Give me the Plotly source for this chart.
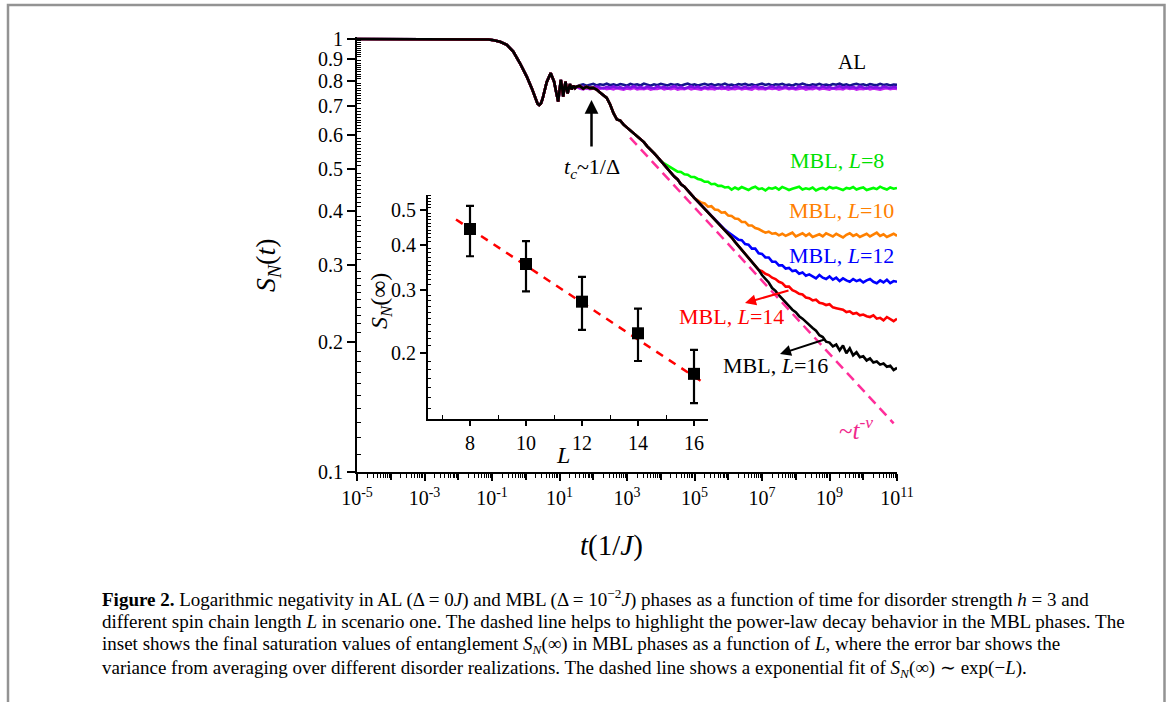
import numpy as np
import plotly.graph_objects as go

W, H = 1171, 702
SERIF = "Liberation Serif"

# ---------------- data ----------------
# common short-time part, log10(t) and S_N(t)
early_logt = [-5.0, -3.0, -1.6, -1.3, -1.1, -0.95, -0.76, -0.56, -0.37, -0.17, 0.03, 0.18, 0.30, 0.35,
              0.40, 0.45, 0.50, 0.62, 0.74, 0.84, 0.92, 0.96, 1.00, 1.04, 1.08, 1.11, 1.15, 1.18,
              1.21, 1.24, 1.28, 1.31, 1.36, 1.41, 1.46, 1.50]
early_S = [1.0, 1.0, 1.0, 0.999, 0.997, 0.993, 0.985, 0.969, 0.935, 0.879, 0.819, 0.769, 0.725, 0.709,
           0.704, 0.710, 0.728, 0.795, 0.834, 0.797, 0.742, 0.717, 0.760, 0.804, 0.770, 0.736, 0.775, 0.797,
           0.768, 0.749, 0.772, 0.787, 0.765, 0.780, 0.770, 0.776]

# MBL common decline, log10 t = 1.6 ... 4.0 (step 0.1)
decline_start = 1.6
decline_S = [0.779, 0.768, 0.776, 0.770, 0.771, 0.764, 0.752, 0.742, 0.731, 0.706, 0.674, 0.652, 0.648,
             0.634, 0.624, 0.616, 0.604, 0.597, 0.585, 0.578, 0.565, 0.556, 0.545, 0.534, 0.523]

# MBL shared branch (L=10..16), log10 t = 4.1 ... 6.9
main_start = 4.1
main_S = [0.511, 0.500, 0.491, 0.481, 0.474, 0.462, 0.456, 0.446, 0.438, 0.429, 0.421, 0.413, 0.406,
          0.398, 0.391, 0.384, 0.377, 0.369, 0.363, 0.355, 0.348, 0.340, 0.333, 0.326, 0.319, 0.312,
          0.306, 0.299, 0.293]

# individual tails (step 0.1 in log10 t)
green_start = 4.1   # L=8
green_S = [0.516, 0.511, 0.504, 0.500, 0.494, 0.493, 0.487, 0.486, 0.480, 0.480,
           0.475, 0.473, 0.468, 0.468, 0.462, 0.463, 0.458, 0.458, 0.454, 0.455,
           0.449, 0.454, 0.450, 0.455, 0.451, 0.448, 0.453, 0.456, 0.450, 0.452,
           0.447, 0.453, 0.451, 0.454, 0.449, 0.455, 0.452, 0.448, 0.451, 0.453,
           0.456, 0.449, 0.452, 0.450, 0.454, 0.447, 0.451, 0.453, 0.449, 0.455,
           0.452, 0.454, 0.450, 0.448, 0.453, 0.451, 0.455, 0.449, 0.452, 0.454,
           0.448, 0.451, 0.453, 0.450, 0.456, 0.452, 0.449, 0.454, 0.451, 0.453]
orange_start = 5.1  # L=10
orange_S = [0.424, 0.419, 0.417, 0.410, 0.411, 0.404, 0.403, 0.397, 0.398, 0.391,
            0.390, 0.385, 0.384, 0.378, 0.378, 0.371, 0.371, 0.366, 0.364,
            0.361, 0.357, 0.359, 0.355, 0.356, 0.352, 0.355, 0.351, 0.354, 0.357,
            0.350, 0.353, 0.356, 0.351, 0.355, 0.349, 0.352, 0.354, 0.350, 0.356,
            0.353, 0.350, 0.355, 0.352, 0.348, 0.353, 0.356, 0.351, 0.354, 0.349,
            0.352, 0.355, 0.350, 0.353, 0.357, 0.351, 0.354, 0.349, 0.352, 0.355, 0.351]
blue_start = 6.0    # L=12
blue_S = [0.358, 0.353, 0.349, 0.344, 0.343, 0.336, 0.335, 0.328, 0.328, 0.320,
          0.319, 0.313, 0.313, 0.306, 0.306, 0.300, 0.300, 0.295, 0.296, 0.291,
          0.292, 0.287, 0.289, 0.284, 0.286, 0.283, 0.280, 0.285, 0.281, 0.279,
          0.283, 0.278, 0.281, 0.276, 0.280, 0.277, 0.275, 0.279, 0.276, 0.278,
          0.274, 0.277, 0.279, 0.275, 0.273, 0.277, 0.274, 0.278, 0.273, 0.276, 0.275]
red_start = 7.0     # L=14
red_S = [0.291, 0.287, 0.285, 0.281, 0.279, 0.275, 0.273, 0.268, 0.268, 0.263,
         0.261, 0.258, 0.257, 0.253, 0.252, 0.249, 0.250, 0.246, 0.245, 0.243,
         0.244, 0.240, 0.239, 0.238, 0.237, 0.234, 0.235, 0.232, 0.233, 0.230,
         0.231, 0.229, 0.228, 0.230, 0.226, 0.227, 0.224, 0.228, 0.225, 0.223, 0.226]
black_start = 7.0   # L=16
black_S = [0.285, 0.279, 0.274, 0.266, 0.262, 0.256, 0.251, 0.247, 0.242, 0.237,
           0.234, 0.229, 0.226, 0.222, 0.219, 0.215, 0.212, 0.207, 0.205, 0.200,
           0.199, 0.195, 0.197, 0.191, 0.196, 0.188, 0.193, 0.186, 0.189, 0.184,
           0.185, 0.181, 0.183, 0.179, 0.180, 0.177, 0.178, 0.175, 0.176, 0.172, 0.174]

# AL curves, log10 t = 1.6 ... 11.0
al_start = 1.6
al_upper_S = [0.782, 0.786, 0.780, 0.785, 0.788, 0.781, 0.786, 0.783, 0.789, 0.782,
              0.786, 0.781, 0.787, 0.784, 0.780, 0.788, 0.783, 0.786, 0.781, 0.789,
              0.784, 0.780, 0.786, 0.782, 0.788, 0.785, 0.781, 0.787, 0.783, 0.786,
              0.780, 0.785, 0.789, 0.782, 0.786, 0.781, 0.784, 0.788, 0.783, 0.787,
              0.781, 0.786, 0.783, 0.789, 0.782, 0.785, 0.780, 0.787, 0.784, 0.788,
              0.782, 0.786, 0.781, 0.785, 0.789, 0.783, 0.787, 0.781, 0.786, 0.784,
              0.788, 0.782, 0.785, 0.780, 0.787, 0.783, 0.789, 0.784, 0.781, 0.786,
              0.783, 0.788, 0.782, 0.785, 0.781, 0.787, 0.784, 0.789, 0.782, 0.786,
              0.780, 0.785, 0.788, 0.783, 0.786, 0.781, 0.787, 0.784, 0.782, 0.788,
              0.783, 0.786, 0.781, 0.785, 0.784]
al_mid_S = [0.772, 0.776, 0.770, 0.775, 0.771, 0.777, 0.773, 0.769, 0.775, 0.772,
            0.777, 0.771, 0.774, 0.769, 0.776, 0.772, 0.778, 0.771, 0.775, 0.770,
            0.776, 0.773, 0.769, 0.777, 0.772, 0.775, 0.770, 0.774, 0.778, 0.771,
            0.775, 0.769, 0.773, 0.777, 0.772, 0.776, 0.770, 0.774, 0.771, 0.777,
            0.773, 0.769, 0.776, 0.772, 0.775, 0.770, 0.777, 0.773, 0.771, 0.776,
            0.770, 0.774, 0.778, 0.772, 0.775, 0.769, 0.773, 0.777, 0.771, 0.775,
            0.772, 0.776, 0.770, 0.774, 0.769, 0.777, 0.773, 0.775, 0.771, 0.776,
            0.774, 0.770, 0.777, 0.772, 0.775, 0.769, 0.774, 0.778, 0.771, 0.776,
            0.772, 0.775, 0.770, 0.777, 0.773, 0.769, 0.776, 0.772, 0.774, 0.770,
            0.776, 0.773, 0.771, 0.775, 0.772]
al_lower_S = [0.768, 0.765, 0.770, 0.766, 0.769, 0.764, 0.768, 0.771, 0.766, 0.769,
              0.765, 0.770, 0.767, 0.764, 0.769, 0.766, 0.771, 0.765, 0.768, 0.766,
              0.770, 0.764, 0.768, 0.767, 0.771, 0.765, 0.769, 0.766, 0.770, 0.764,
              0.768, 0.766, 0.771, 0.765, 0.769, 0.767, 0.764, 0.770, 0.766, 0.768,
              0.765, 0.771, 0.767, 0.769, 0.764, 0.768, 0.766, 0.770, 0.765, 0.769,
              0.767, 0.764, 0.771, 0.766, 0.768, 0.765, 0.770, 0.767, 0.769, 0.764,
              0.768, 0.771, 0.766, 0.769, 0.765, 0.767, 0.770, 0.764, 0.768, 0.766,
              0.771, 0.765, 0.769, 0.767, 0.764, 0.770, 0.766, 0.768, 0.765, 0.771,
              0.767, 0.769, 0.764, 0.768, 0.766, 0.770, 0.765, 0.769, 0.767, 0.764,
              0.768, 0.770, 0.766, 0.769, 0.767]

# power-law guide ~ t^-nu
pl_amp, pl_nu = 1.08, 0.0845
pl_logt_range = [3.09, 10.9]

# inset: saturation values vs L
inset_L = [8, 10, 12, 14, 16]
inset_S = [0.443, 0.354, 0.278, 0.227, 0.175]
inset_upper = [0.514, 0.410, 0.326, 0.266, 0.204]
inset_lower = [0.372, 0.297, 0.232, 0.190, 0.145]
fit_amp, fit_rate, fit_L0 = 0.444, 0.1185, 8
fit_L_range = [7.5, 16.25]

x_label_exps = [-5, -3, -1, 1, 3, 5, 7, 9, 11]
x_plain_exps = [-4, -2, 0, 2, 4, 6, 8, 10]
y_tick_vals = [0.1, 0.2, 0.3, 0.4, 0.5, 0.6, 0.7, 0.8, 0.9, 1.0]
y_tick_text = ["0.1", "0.2", "0.3", "0.4", "0.5", "0.6", "0.7", "0.8", "0.9", "1"]
inset_xticks = [8, 10, 12, 14, 16]
inset_yticks = [0.2, 0.3, 0.4, 0.5]


# ---------------- helpers ----------------
def grid(start, n):
    return [round(start + 0.1 * i, 2) for i in range(n)]


def build(*parts):
    lt, s = [], []
    for a, b in parts:
        lt += list(a)
        s += list(b)
    return [10 ** v for v in lt], s


def upto(start, vals, last):
    g = grid(start, len(vals))
    k = [i for i, v in enumerate(g) if v <= last + 1e-9]
    return [g[i] for i in k], [vals[i] for i in k]


def px(x):
    return x / W


def py(y):
    return 1 - y / H


early = (early_logt, early_S)
decl = (grid(decline_start, len(decline_S)), decline_S)

fig = go.Figure()

line_w = 2.6
al_traces = [("AL upper", al_upper_S, "#14148C"), ("AL lower", al_lower_S, "#C21EF0"),
             ("AL mid", al_mid_S, "#7F12E6")]
for name, vals, col in al_traces:
    x, y = build(early, (grid(al_start, len(vals)), vals))
    fig.add_trace(go.Scatter(x=x, y=y, mode="lines", name=name,
                             line=dict(color=col, width=line_w), xaxis="x", yaxis="y"))

mbl = [
    ("MBL L=8", [early, decl, (grid(green_start, len(green_S)), green_S)], "#00FF00"),
    ("MBL L=10", [early, decl, upto(main_start, main_S, orange_start - 0.1),
                  (grid(orange_start, len(orange_S)), orange_S)], "#FF8000"),
    ("MBL L=12", [early, decl, upto(main_start, main_S, blue_start - 0.1),
                  (grid(blue_start, len(blue_S)), blue_S)], "#0000FF"),
    ("MBL L=14", [early, decl, upto(main_start, main_S, red_start - 0.1),
                  (grid(red_start, len(red_S)), red_S)], "#FF0000"),
    ("MBL L=16", [early, decl, upto(main_start, main_S, black_start - 0.1),
                  (grid(black_start, len(black_S)), black_S)], "#000000"),
]
for name, parts, col in mbl:
    x, y = build(*parts)
    fig.add_trace(go.Scatter(x=x, y=y, mode="lines", name=name,
                             line=dict(color=col, width=line_w), xaxis="x", yaxis="y"))

# power-law guide
pl_t = [10 ** v for v in pl_logt_range]
pl_y = [pl_amp * t ** (-pl_nu) for t in pl_t]
fig.add_trace(go.Scatter(x=pl_t, y=pl_y, mode="lines", name="t^-nu",
                         line=dict(color="#FF2E9A", width=2.5, dash="10px,6px"),
                         xaxis="x", yaxis="y"))

# inset
fig.add_trace(go.Scatter(x=fit_L_range,
                         y=[fit_amp * np.exp(-fit_rate * (L - fit_L0)) for L in fit_L_range],
                         mode="lines", name="fit",
                         line=dict(color="#FF0000", width=2.5, dash="8px,7px"),
                         xaxis="x2", yaxis="y2"))
fig.add_trace(go.Scatter(x=inset_L, y=inset_S, mode="markers", name="S(inf)",
                         marker=dict(symbol="square", size=12, color="black"),
                         error_y=dict(type="data", symmetric=False,
                                      array=[u - s for u, s in zip(inset_upper, inset_S)],
                                      arrayminus=[s - l for s, l in zip(inset_S, inset_lower)],
                                      color="black", thickness=2.2, width=4),
                         xaxis="x2", yaxis="y2"))

tickfont = dict(family=SERIF, size=20, color="black")

x_minor = [m * 10.0 ** e for e in range(-5, 11) for m in range(2, 10)]
y_minor = [round(0.1 + 0.01 * k, 2) for k in range(1, 90) if k % 10 != 0]
y2_minor = [round(0.13 + 0.01 * k, 2) for k in range(0, 43)
            if round(0.13 + 0.01 * k, 2) not in inset_yticks]

y_top_px = 39 - 0.004 * 433
x_dom = [px(357), px(897)]

fig.update_layout(
    width=W, height=H, autosize=False,
    margin=dict(l=0, r=0, t=0, b=0, pad=0, autoexpand=False),
    paper_bgcolor="white", plot_bgcolor="rgba(0,0,0,0)",
    showlegend=False,
    xaxis=dict(type="log", range=[-5, 11], domain=x_dom, anchor="y", automargin=False,
               showline=True, linecolor="black", linewidth=2, mirror=False,
               showgrid=False, zeroline=False,
               tickvals=[10.0 ** e for e in x_label_exps],
               ticktext=["10<sup>%d</sup>" % e for e in x_label_exps],
               ticks="outside", ticklen=7, tickwidth=1.5, tickcolor="black",
               tickfont=tickfont,
               minor=dict(tickvals=x_minor, ticks="outside", ticklen=4, tickwidth=1,
                          tickcolor="black", showgrid=False)),
    xaxis3=dict(type="log", range=[-5, 11], overlaying="x", anchor="y", automargin=False,
                showline=False, showgrid=False, zeroline=False, side="bottom",
                tickvals=[10.0 ** e for e in x_plain_exps], showticklabels=False,
                ticks="outside", ticklen=7, tickwidth=1.5, tickcolor="black"),
    yaxis=dict(type="log", range=[-1, 0.004], domain=[py(472), py(y_top_px)], anchor="x",
               automargin=False,
               showline=True, linecolor="black", linewidth=2,
               showgrid=False, zeroline=False,
               tickvals=y_tick_vals, ticktext=y_tick_text,
               ticks="outside", ticklen=8, tickwidth=1.5, tickcolor="black",
               tickfont=tickfont,
               minor=dict(tickvals=y_minor, ticks="inside", ticklen=4, tickwidth=1,
                          tickcolor="black", showgrid=False)),
    xaxis2=dict(range=[6.5, 16.5], domain=[px(428), px(708)], anchor="y2", automargin=False,
                showline=True, linecolor="black", linewidth=2,
                showgrid=False, zeroline=False,
                tickvals=inset_xticks, ticks="outside", ticklen=5, tickwidth=1.5,
                tickcolor="black", tickfont=tickfont,
                minor=dict(tickvals=[7, 9, 11, 13, 15], ticks="inside", ticklen=4,
                           tickwidth=1, tickcolor="black", showgrid=False)),
    yaxis2=dict(type="log", range=[np.log10(0.131), np.log10(0.551)],
                domain=[py(419), py(195)], anchor="x2", automargin=False,
                showline=True, linecolor="black", linewidth=2,
                showgrid=False, zeroline=False,
                tickvals=inset_yticks, ticktext=["0.2", "0.3", "0.4", "0.5"],
                ticks="outside", ticklen=6, tickwidth=1.5, tickcolor="black",
                tickfont=tickfont,
                minor=dict(tickvals=y2_minor, ticks="inside", ticklen=3, tickwidth=1,
                           tickcolor="black", showgrid=False)),
)

# invisible trace so the overlay axis carrying the even-decade ticks is drawn
fig.add_trace(go.Scatter(x=[10.0 ** x_plain_exps[0]], y=[1.0], mode="markers",
                         marker=dict(size=1, opacity=0), xaxis="x3", yaxis="y",
                         hoverinfo="skip"))

# frame around figure
fig.add_shape(type="path", xref="paper", yref="paper",
              path="M %f %f L %f %f L %f %f L %f %f" % (px(8), py(710), px(8), py(5),
                                                          px(1164.5), py(5), px(1164.5), py(710)),
              line=dict(color="#939393", width=2.5))

ann = []


def text(t, x, y, size, color="black", xanchor="center", angle=0):
    ann.append(dict(text=t, x=px(x), y=py(y), xref="paper", yref="paper", showarrow=False,
                    xanchor=xanchor, yanchor="middle", textangle=angle,
                    font=dict(family=SERIF, size=size, color=color)))


def arrow(hx, hy, tx, ty, color, width):
    ann.append(dict(text="", x=px(hx), y=py(hy), xref="paper", yref="paper", showarrow=True,
                    ax=tx - hx, ay=ty - hy, axref="pixel", ayref="pixel",
                    arrowhead=2, arrowsize=1.1, arrowwidth=width, arrowcolor=color,
                    standoff=0, startstandoff=0))


text("<i>S</i><sub><i>N</i></sub>(<i>t</i>)", 268, 265, 28, angle=-90)
text("<i>t</i>(1/<i>J</i>)", 611, 545, 29)
text("<i>S</i><sub><i>N</i></sub>(∞)", 381, 301, 24, angle=-90)
text("<i>L</i>", 563, 455, 24)
text("AL", 852, 62, 21)
text("MBL, <i>L</i>=8", 886, 160, 22, "#00E000", xanchor="right")
text("MBL, <i>L</i>=10", 896, 210, 22, "#FF8000", xanchor="right")
text("MBL, <i>L</i>=12", 896, 256, 22, "#0000FF", xanchor="right")
text("MBL, <i>L</i>=14", 731, 316, 22, "#FF0000")
text("MBL, <i>L</i>=16", 775, 365, 22, "black")
text("~<i>t</i><sup>-<i>ν</i></sup>", 856, 428, 25, "#F0288C")
text("<i>t</i><sub><i>c</i></sub>~1/Δ", 592, 168, 22)

arrow(591.5, 100, 591.5, 148, "black", 2.5)
arrow(745, 303, 790, 290, "#FF0000", 2)
arrow(780, 354, 826, 339, "black", 2)

caption = [
    "<b>Figure 2.</b> Logarithmic negativity in AL (Δ = 0<i>J</i>) and MBL (Δ = 10<sup>−2</sup><i>J</i>) phases as a function of time for disorder strength <i>h</i> = 3 and",
    "different spin chain length <i>L</i> in scenario one. The dashed line helps to highlight the power-law decay behavior in the MBL phases. The",
    "inset shows the final saturation values of entanglement <i>S</i><sub><i>N</i></sub>(∞) in MBL phases as a function of <i>L</i>, where the error bar shows the",
    "variance from averaging over different disorder realizations. The dashed line shows a exponential fit of <i>S</i><sub><i>N</i></sub>(∞) ∼ exp(−<i>L</i>).",
]
for i, line in enumerate(caption):
    text(line, 100, 598 + 23.7 * i, 19, xanchor="left")

fig.update_layout(annotations=ann)
fig.write_html("out.html", config={"displayModeBar": False},
               post_script="document.body.style.margin='0px';document.body.style.overflow='hidden';")
